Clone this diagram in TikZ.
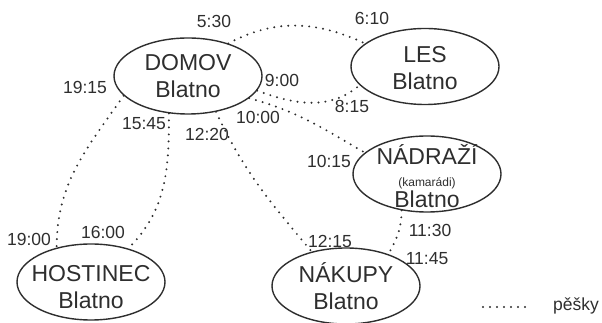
\documentclass[tikz,border=0pt]{standalone}
\usepackage{fontspec}
\setmainfont{Liberation Sans}
\usetikzlibrary{shapes.geometric}
\definecolor{tmava}{HTML}{2E2E2E}
\tikzset{
misto/.style={ellipse,draw=tmava,line width=1.4pt,minimum width=148pt,minimum height=76pt,inner sep=0pt},
nazev/.style={align=center,text=tmava,inner sep=0pt,font=\fontsize{23}{27}\selectfont},
cas/.style={text=tmava,inner sep=0pt,font=\fontsize{17.5}{20}\selectfont},
pesi/.style={draw=tmava,line width=2.2pt,line cap=round,dash pattern=on 0pt off 7pt}}

\begin{document}
\begin{tikzpicture}[x=1pt,y=1pt]
\useasboundingbox (0,0) rectangle (602,323);

\node[misto] (domov) at (188,247) {};
\node[misto] (les) at (425,256.5) {};
\node[misto] (nadrazi) at (427,149) {};
\node[misto] (hostinec) at (91,41) {};
\node[misto] (nakupy) at (346,37) {};

\node[nazev] (domovT) at (domov) {DOMOV\\Blatno};
\node[nazev] (lesT) at ([yshift=-2pt]les) {LES\\Blatno};
\node[nazev] (nadraziT) at ([yshift=-2pt]nadrazi) {NÁDRAŽÍ\\[-5pt]{\fontsize{12}{14}\selectfont(kamarádi)}\\[-6pt]Blatno};
\node[nazev] (hostinecT) at ([yshift=-5pt]hostinec) {HOSTINEC\\Blatno};
\node[nazev] (nakupyT) at (nakupy) {NÁKUPY\\Blatno};

\node[cas] (t530) at (214,302) {5:30};
\node[cas] (t610) at (372,305) {6:10};
\node[cas] (t900) at (282,243) {9:00};
\node[cas] (t815) at (352,217) {8:15};
\node[cas] (t1000) at (258,206) {10:00};
\node[cas] (t1015) at (329,162) {10:15};
\node[cas] (t1130) at (430,93) {11:30};
\node[cas] (t1145) at (427,64) {11:45};
\node[cas] (t1220) at (207,189) {12:20};
\node[cas] (t1215) at (330,82) {12:15};
\node[cas] (t1545) at (144,199) {15:45};
\node[cas] (t1600) at (103,91) {16:00};
\node[cas] (t1915) at (85,236) {19:15};
\node[cas] (t1900) at (29,84) {19:00};

\path[pesi]
 (domov.39) edge[out=28,in=155] (les.159)
 (domov.-12) edge[out=-20,in=-140] (les.196)
 (domov.-20) edge[out=-15,in=150] (nadrazi.161)
 (domov.-52) edge[out=-65,in=130] (nakupy.135)
 (domov.243) edge[out=-90,in=45] (hostinec.42)
 (domov.197) edge[out=-125,in=90] (hostinec.135)
 (nadrazi.235) edge[out=-90,in=60] (nakupy.37);

% legenda
\coordinate (legA) at (483,16);
\coordinate (legB) at (530,16);
\draw[pesi] (legA) -- (legB);
\node[cas,anchor=base west] (pesky) at (553,12) {pěšky};

\end{tikzpicture}
\end{document}
